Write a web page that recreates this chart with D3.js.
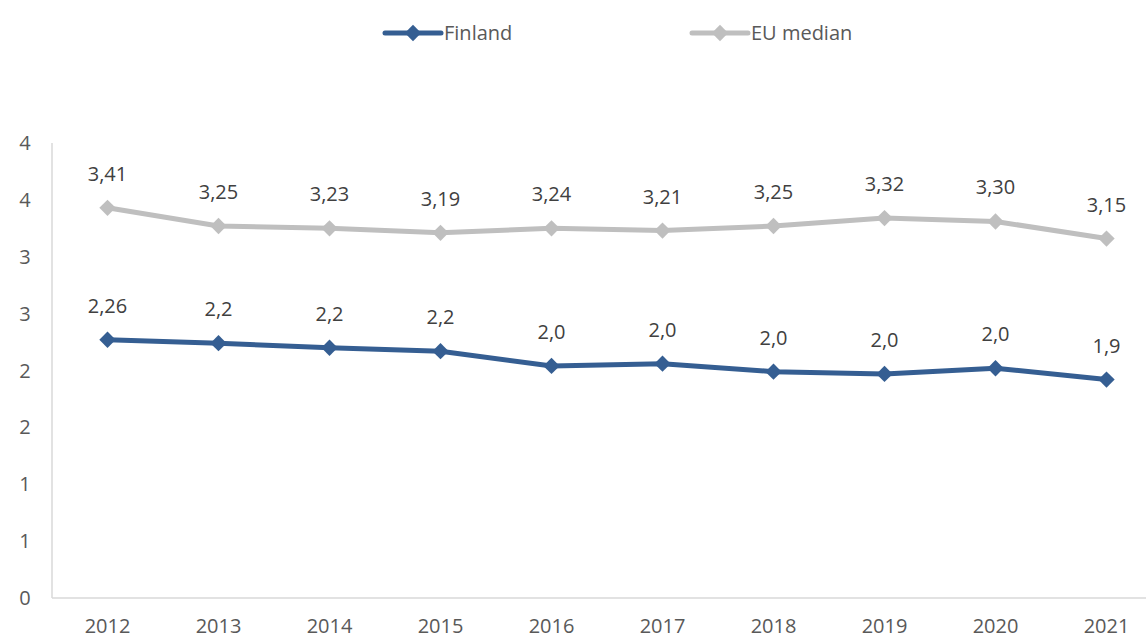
<!DOCTYPE html>
<html>
<head>
<meta charset="utf-8">
<script src="https://cdn.jsdelivr.net/npm/d3@7"></script>
<style>
  body { margin: 0; background: #fff; }
  svg text { font-family: "Open Sans", "Liberation Sans", sans-serif; }
</style>
</head>
<body>
<div id="chart"></div>
<script>
const years = ["2012", "2013", "2014", "2015", "2016", "2017", "2018", "2019", "2020", "2021"];
const finlandValues = [2.27, 2.24, 2.20, 2.17, 2.04, 2.06, 1.99, 1.97, 2.02, 1.92];
const finlandLabels = ["2,26", "2,2", "2,2", "2,2", "2,0", "2,0", "2,0", "2,0", "2,0", "1,9"];
const euValues = [3.43, 3.27, 3.25, 3.21, 3.25, 3.23, 3.27, 3.34, 3.31, 3.16];
const euLabels = ["3,41", "3,25", "3,23", "3,19", "3,24", "3,21", "3,25", "3,32", "3,30", "3,15"];
const yTicks = [0, 0.5, 1, 1.5, 2, 2.5, 3, 3.5, 4];

const width = 1146, height = 640;
const fontSize = "20px";
const svg = d3.select("#chart").append("svg").attr("width", width).attr("height", height);

const x = d3.scaleBand().domain(years).range([52, 1162]);
const y = d3.scaleLinear().domain([0, 4]).range([598, 143]);
const cx = d => x(d) + x.bandwidth() / 2;

// axis lines
svg.append("line").attr("x1", 52).attr("x2", 52).attr("y1", 143).attr("y2", 598)
  .attr("stroke", "#d9d9d9").attr("stroke-width", 1.5);
svg.append("line").attr("x1", 52).attr("x2", width).attr("y1", 598).attr("y2", 598)
  .attr("stroke", "#d9d9d9").attr("stroke-width", 1.5);

// y tick labels
svg.selectAll(".ylab").data(yTicks).enter().append("text")
  .attr("class", "ylab")
  .attr("x", 25).attr("y", d => y(d) + 7)
  .attr("text-anchor", "middle").attr("fill", "#595959").attr("font-size", fontSize)
  .text(d => Math.round(d));

// x tick labels
svg.selectAll(".xlab").data(years).enter().append("text")
  .attr("class", "xlab")
  .attr("x", d => cx(d)).attr("y", 633)
  .attr("text-anchor", "middle").attr("fill", "#595959").attr("font-size", fontSize)
  .text(d => d);

const series = [
  { name: "Finland", values: finlandValues, labels: finlandLabels, color: "#355e92", legendX: 385 },
  { name: "EU median", values: euValues, labels: euLabels, color: "#bfbfbf", legendX: 692 }
];

const line = d3.line().x((d, i) => cx(years[i])).y(d => y(d));
const diamond = d3.symbol().type(d3.symbolDiamond2).size(170);

series.slice().reverse().forEach(s => {
  svg.append("path").datum(s.values)
    .attr("d", line).attr("fill", "none")
    .attr("stroke", s.color).attr("stroke-width", 5).attr("stroke-linejoin", "round");

  svg.selectAll(null).data(s.values).enter().append("path")
    .attr("d", diamond)
    .attr("transform", (d, i) => `translate(${cx(years[i])},${y(d)})`)
    .attr("fill", s.color);

  svg.selectAll(null).data(s.values).enter().append("text")
    .attr("x", (d, i) => cx(years[i])).attr("y", d => y(d) - 27)
    .attr("text-anchor", "middle").attr("fill", "#404040").attr("font-size", fontSize)
    .text((d, i) => s.labels[i]);
});

// legend
series.forEach(s => {
  const g = svg.append("g").attr("transform", `translate(${s.legendX},33)`);
  g.append("line").attr("x1", 0).attr("x2", 56).attr("y1", 0).attr("y2", 0)
    .attr("stroke", s.color).attr("stroke-width", 5).attr("stroke-linecap", "round");
  g.append("path").attr("d", diamond).attr("transform", "translate(28,0)").attr("fill", s.color);
  g.append("text").attr("x", 59).attr("y", 7).attr("fill", "#595959").attr("font-size", fontSize)
    .text(s.name);
});
</script>
</body>
</html>
